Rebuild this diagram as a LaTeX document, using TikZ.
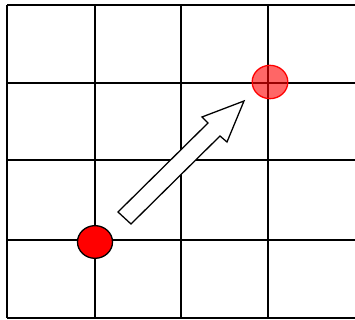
\documentclass[tikz,border=0pt]{standalone}
\usepackage{xcolor}
\usetikzlibrary{shapes.geometric}
\definecolor{dotred}{HTML}{FF0000}

\begin{document}
\begin{tikzpicture}[x=0.03cm,y=-0.03cm,line join=miter,
    gridline/.style={line width=1.5pt,black},
    startdot/.style={ellipse,draw=black,line width=1.1pt,fill=dotred,minimum width=1.05cm,minimum height=0.98cm,inner sep=0pt},
    goaldot/.style={ellipse,draw=dotred,line width=1.1pt,fill=dotred,fill opacity=0.6,minimum width=1.07cm,minimum height=1.0cm,inner sep=0pt},
    movearrow/.style={draw=black,line width=1.1pt,fill=white}]
  \useasboundingbox (0,0) rectangle (355,320);
  % grid
  \foreach \gx in {7,95,181,268}{
     \draw[gridline] (\gx,5) -- (\gx,318);
  }
  \foreach \gy in {5,83,160,240,318}{
     \draw[gridline] (7,\gy) -- (355,\gy);
  }
  % move arrow
  \coordinate (tailA) at (118,212);
  \coordinate (tailB) at (131,224);
  \coordinate (neckA) at (208,123);
  \coordinate (neckB) at (220,136);
  \coordinate (barbA) at (202,117);
  \coordinate (barbB) at (227,142);
  \coordinate (tip)   at (244,101);
  \draw[movearrow] (tailA)--(neckA)--(barbA)--(tip)--(barbB)--(neckB)--(tailB)--cycle;
  % start and goal
  \node[startdot] (start) at (95,242) {};
  \node[goaldot] (goal) at (270,82) {};
\end{tikzpicture}
\end{document}
